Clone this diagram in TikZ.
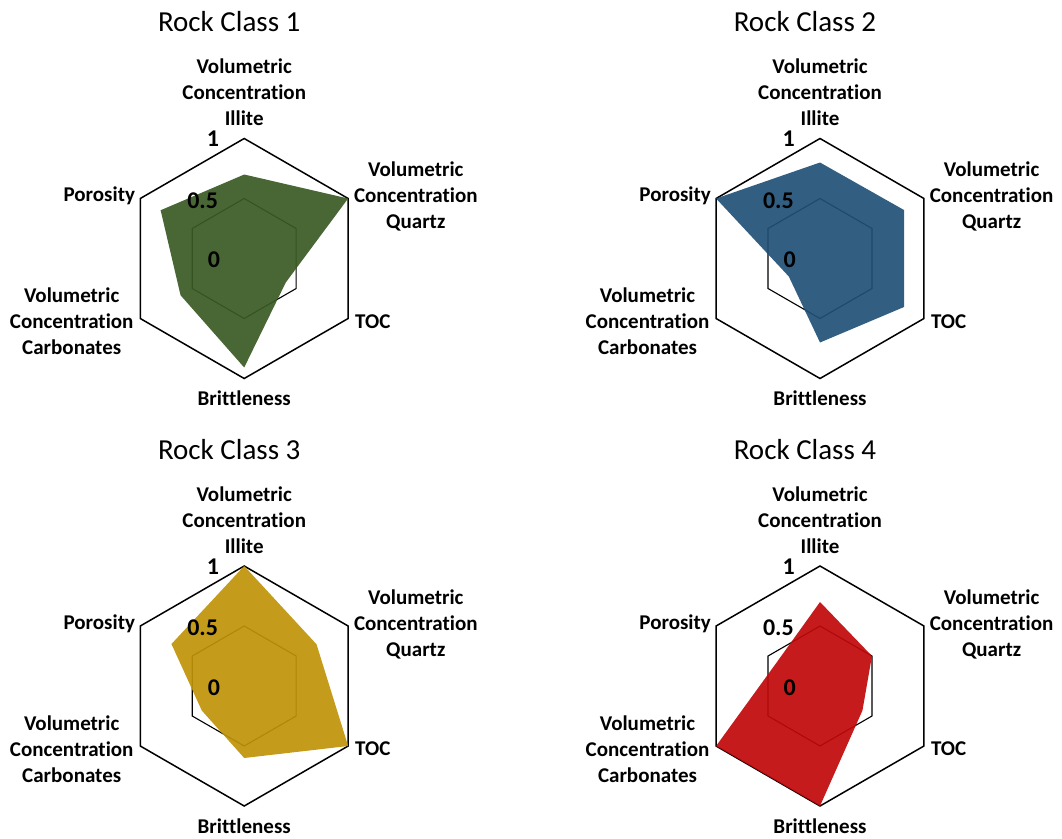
\documentclass[tikz,border=0pt]{standalone}
\usepackage{fontspec}
\setmainfont{Carlito}[Ligatures=NoCommon]
\definecolor{cgreen}{RGB}{58,90,36}
\definecolor{cblue}{RGB}{33,80,119}
\definecolor{cgold}{RGB}{191,147,8}
\definecolor{cred}{RGB}{192,8,10}
\tikzset{
  outerhex/.style={draw=black, line width=1.5pt, line join=miter},
  innerhex/.style={draw=black, line width=1.1pt, line join=miter},
  datafill/.style={fill=#1, fill opacity=0.92, draw=none},
  axlabel/.style={font=\bfseries\fontsize{21}{26}\selectfont, align=center, inner sep=0pt, text=black},
  scalelabel/.style={font=\bfseries\fontsize{24}{28}\selectfont, inner sep=0pt, anchor=east, text=black},
  charttitle/.style={font=\fontsize{29}{34}\selectfont, inner sep=0pt, text=black},
}
% grid: inner (0.5) and outer (1) hexagons, R = 120
\newcommand\radargrid{%
  \draw[innerhex] (-90:60) -- (-30:60) -- (30:60) -- (90:60) -- (150:60) -- (210:60) -- cycle;
  \draw[outerhex] (-90:120) -- (-30:120) -- (30:120) -- (90:120) -- (150:120) -- (210:120) -- cycle;
}
% labels: #1 name prefix, #2 title
\newcommand\radarlabels[2]{%
  \node[charttitle] (#1title) at (-15,-236.5) {#2};
  \node[axlabel] (#1ill) at (0,-166) {Volumetric\\Concentration\\Illite};
  \node[axlabel] (#1qtz) at (171.6,-62) {Volumetric\\Concentration\\Quartz};
  \node[axlabel, anchor=west] (#1toc) at (110.8,63) {TOC};
  \node[axlabel] (#1brit) at (0,140) {Brittleness};
  \node[axlabel] (#1carb) at (-172.5,63) {Volumetric\\Concentration\\Carbonates};
  \node[axlabel, anchor=east] (#1por) at (-109,-62.5) {Porosity};
  \node[scalelabel] (#1one) at (-25,-119.5) {1};
  \node[scalelabel] (#1half) at (-26,-58) {0.5};
  \node[scalelabel] (#1zero) at (-24,1.5) {0};
}
\begin{document}
\begin{tikzpicture}[x=1pt, y=-1pt]
\useasboundingbox (0,0) rectangle (1062,838);
% Rock Class 1
\begin{scope}[shift={(244.2,258.5)}]
  \radargrid
  \fill[datafill=cgreen] (-90:84) -- (-30:120) -- (30:48) -- (90:109) -- (150:73.5) -- (210:96.5) -- cycle;
  \radarlabels{a}{Rock Class 1}
\end{scope}
% Rock Class 2
\begin{scope}[shift={(820,258.5)}]
  \radargrid
  \fill[datafill=cblue] (-90:96) -- (-30:97) -- (30:97) -- (90:84) -- (150:36) -- (210:120) -- cycle;
  \radarlabels{b}{Rock Class 2}
\end{scope}
% Rock Class 3
\begin{scope}[shift={(244.2,686)}]
  \radargrid
  \fill[datafill=cgold] (-90:120) -- (-30:83.5) -- (30:120) -- (90:72) -- (150:49) -- (210:84) -- cycle;
  \radarlabels{c}{Rock Class 3}
\end{scope}
% Rock Class 4
\begin{scope}[shift={(820,686)}]
  \radargrid
  \fill[datafill=cred] (-90:84) -- (-30:60) -- (30:49) -- (90:120) -- (150:120) -- (210:49.2) -- cycle;
  \radarlabels{d}{Rock Class 4}
\end{scope}
\end{tikzpicture}
\end{document}
